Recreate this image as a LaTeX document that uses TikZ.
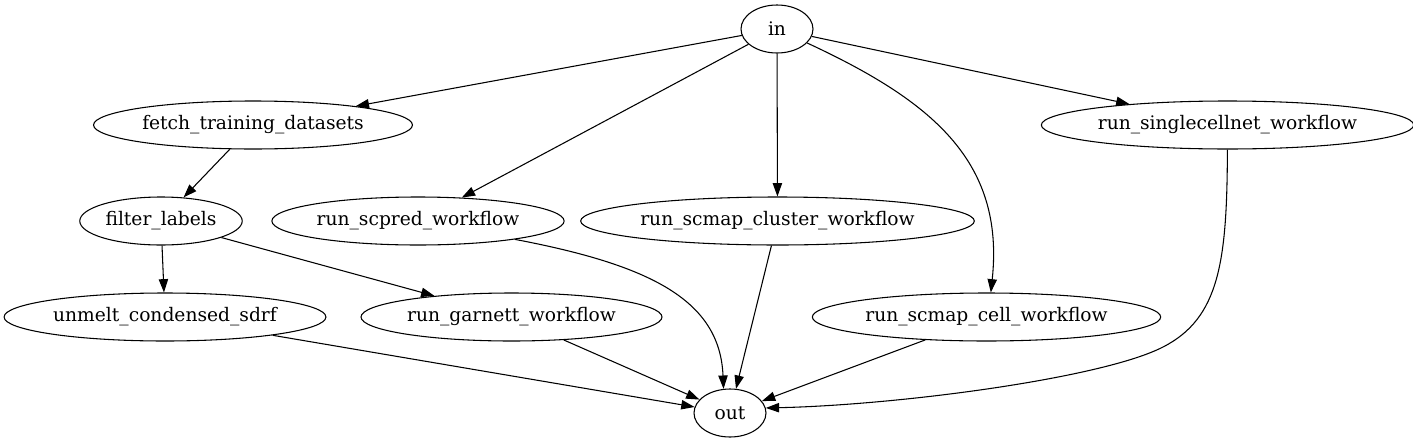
\documentclass[tikz,border=0pt]{standalone}
\usepackage{fontspec}
\setmainfont{DejaVu Serif}
\usepackage{tikz}
\usetikzlibrary{shapes.geometric, arrows.meta}
\tikzstyle{task} = [ellipse, draw=black, line width=0.8pt, inner xsep=1.5pt, minimum width=54pt, minimum height=36pt, text centered, font=\fontsize{14}{17}\selectfont]
\tikzstyle{arrow} = [line width=0.8pt, -{Triangle[length=10pt, width=7pt]}]
\begin{document}
\begin{tikzpicture}[x=0.75pt, y=-0.75pt]
      \useasboundingbox (0,0) rectangle (1413,443);
      \node (in) [task] at (777,29) {in};
      \node (fetch) [task] at (253,125) {fetch\_training\_datasets};
      \node (singlecell) [task] at (1227.5,125) {run\_singlecellnet\_workflow};
      \node (filter) [task] at (161,221) {filter\_labels};
      \node (scpred) [task] at (418,221) {run\_scpred\_workflow};
      \node (cluster) [task] at (777.5,221) {run\_scmap\_cluster\_workflow};
      \node (unmelt) [task] at (165,317) {unmelt\_condensed\_sdrf};
      \node (garnett) [task] at (511.5,317) {run\_garnett\_workflow};
      \node (scmapcell) [task] at (986.5,317) {run\_scmap\_cell\_workflow};
      \node (out) [task] at (730,413) {out};
      \draw [arrow] (in) -- (fetch);
      \draw [arrow] (in) -- (scpred);
      \draw [arrow] (in) -- (cluster);
      \draw [arrow] (in) .. controls (930,100) and (1005,160) .. (scmapcell.80);
      \draw [arrow] (in) -- (singlecell);
      \draw [arrow] (fetch) -- (filter);
      \draw [arrow] (filter) -- (unmelt);
      \draw [arrow] (filter) -- (garnett);
      \draw [arrow] (scpred) .. controls (650,265) and (720,300) .. (out.105);
      \draw [arrow] (cluster) -- (out);
      \draw [arrow] (unmelt) -- (out);
      \draw [arrow] (garnett) -- (out);
      \draw [arrow] (scmapcell) -- (out);
      \draw [arrow] (singlecell) .. controls (1227,260) and (1220,318) .. (1163,347)
                    .. controls (1103,378) and (900,405) .. (out.8);
    \end{tikzpicture}
\end{document}
